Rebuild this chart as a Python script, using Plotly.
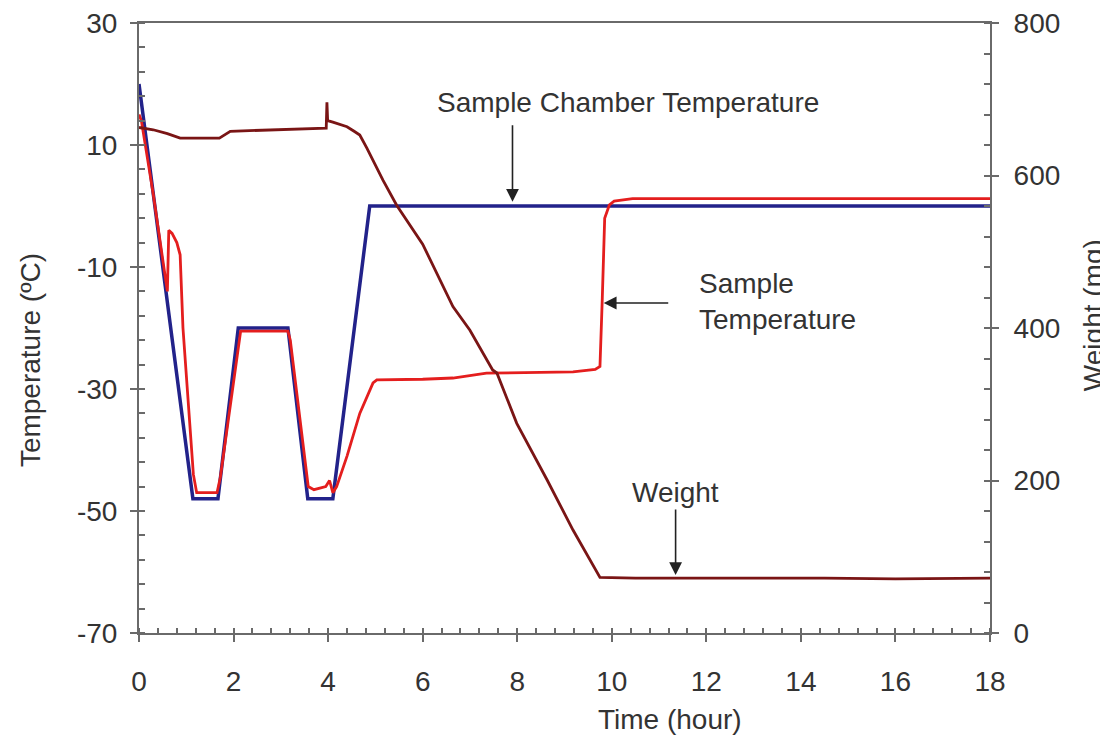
import plotly.graph_objects as go

# ---------------- data ----------------
chamber_t = [0, 1.14, 1.67, 2.1, 3.15, 3.57, 4.1, 4.88, 18]
chamber_T = [20, -48, -48, -20, -20, -48, -48, 0, 0]

sample_t = [0, 0.05, 0.3, 0.55, 0.6, 0.63, 0.7, 0.8, 0.87, 0.93, 1.04, 1.15, 1.22,
            1.65, 1.72, 2.15, 3.15, 3.2, 3.58, 3.7, 3.95, 4.03, 4.1, 4.18, 4.4, 4.67,
            4.95, 5.03, 6.0, 6.64, 7.35, 8.5, 9.18, 9.65, 9.75, 9.8, 9.85, 9.95,
            10.05, 10.44, 18]
sample_T = [15, 14, 2, -12, -14, -4, -4.5, -6, -8, -20, -32, -44, -47,
            -47, -44.5, -20.5, -20.5, -22, -46, -46.5, -46, -45, -47, -46, -41, -34,
            -29, -28.5, -28.4, -28.2, -27.4, -27.3, -27.2, -26.8, -26.3, -15, -2, 0.2,
            0.8, 1.2, 1.2]

weight_t = [0, 0.3, 0.6, 0.87, 1.3, 1.7, 1.93, 2.5, 3.0, 3.5, 3.96, 3.975, 3.99,
            4.1, 4.3, 4.4, 4.55, 4.67, 4.82, 5.16, 5.45, 6.0, 6.64, 7.0, 7.48, 7.57,
            7.99, 8.63, 9.18, 9.75, 10.5, 14.5, 16.0, 17.2, 18]
weight_mg = [663, 660, 655, 649, 649, 649, 658, 659, 660, 661, 662, 696, 672,
             670, 666, 664, 658, 653, 636, 594, 561, 510, 428, 397, 345, 341,
             275, 201, 135, 73, 72, 72, 71, 72, 72]

x_ticks = [0, 2, 4, 6, 8, 10, 12, 14, 16, 18]
temp_ticks = [-70, -50, -30, -10, 10, 30]
temp_labels = ["-70", "-50", "-30", "-10", "10", "30"]
weight_ticks = [0, 200, 400, 600, 800]

FONT = "Liberation Sans, Arial, sans-serif"
TXT = "#333333"
AX = "#6a6a6a"
FS = 28

fig = go.Figure()
fig.add_trace(go.Scatter(x=chamber_t, y=chamber_T, mode="lines",
                         line=dict(color="#22228a", width=3.5), name="Sample Chamber Temperature"))
fig.add_trace(go.Scatter(x=sample_t, y=sample_T, mode="lines",
                         line=dict(color="#e41e1e", width=2.8), name="Sample Temperature"))
fig.add_trace(go.Scatter(x=weight_t, y=weight_mg, mode="lines", yaxis="y2",
                         line=dict(color="#7a1515", width=2.8), name="Weight"))

common = dict(showgrid=False, zeroline=False, linecolor=AX, linewidth=2,
              tickcolor=AX, tickwidth=2, automargin=False, ticklabeloverflow="allow",
              tickfont=dict(family=FONT, size=FS, color=TXT))

# the page body adds an 8px offset; figure sized so the plot area lands where the reference has it
fig.update_layout(
    width=1100, height=733,
    margin=dict(l=131, r=118, t=15, b=108, autoexpand=False),
    paper_bgcolor="white", plot_bgcolor="white",
    showlegend=False,
    xaxis=dict(range=[0, 18], tickvals=x_ticks, ticks="outside", ticklen=7,
               showline=True, mirror=True, ticklabelstandoff=15,
               minor=dict(dtick=0.4, tick0=0, ticks="inside", ticklen=5,
                          tickcolor=AX, tickwidth=1.5),
               **common),
    yaxis=dict(range=[-70, 30], tickvals=temp_ticks, ticktext=temp_labels,
               ticks="outside", ticklen=7,
               showline=True, ticklabelstandoff=7,
               minor=dict(dtick=4, tick0=-70, ticks="inside", ticklen=6,
                          tickcolor=AX, tickwidth=1.5),
               **common),
    yaxis2=dict(range=[0, 800], tickvals=weight_ticks, ticks="outside", ticklen=7,
                overlaying="y", side="right", anchor="x", showline=True,
                ticklabelstandoff=9,
                minor=dict(dtick=40, tick0=0, ticks="inside", ticklen=6,
                           tickcolor=AX, tickwidth=1.5),
                **common),
    # overlay axes providing the inner half of the crossing major ticks
    xaxis3=dict(range=[0, 18], tickvals=x_ticks, ticks="inside", ticklen=4,
                overlaying="x", anchor="y", showticklabels=False, showline=False,
                showgrid=False, zeroline=False, tickcolor=AX, tickwidth=2, automargin=False),
    yaxis3=dict(range=[-70, 30], tickvals=temp_ticks, ticks="inside", ticklen=5,
                overlaying="y", anchor="x", side="left", showticklabels=False,
                showline=False, showgrid=False, zeroline=False, tickcolor=AX, tickwidth=2,
                automargin=False),
    yaxis4=dict(range=[0, 800], tickvals=weight_ticks, ticks="inside", ticklen=5,
                overlaying="y", anchor="x", side="right", showticklabels=False,
                showline=False, showgrid=False, zeroline=False, tickcolor=AX, tickwidth=2,
                automargin=False),
)

ann_font = dict(family=FONT, size=FS, color=TXT)
annotations = [
    # axis titles
    dict(text="Temperature (ºC)", xref="paper", yref="paper", x=-0.128, y=0.4475,
         textangle=-90, showarrow=False, font=ann_font, xanchor="center", yanchor="middle"),
    dict(text="Weight (mg)", xref="paper", yref="paper", x=1.121, y=0.521,
         textangle=-90, showarrow=False, font=ann_font, xanchor="center", yanchor="middle"),
    dict(text="Time (hour)", xref="paper", yref="paper", x=0.624, y=-0.1426,
         showarrow=False, font=ann_font, xanchor="center", yanchor="middle"),
    # labels
    dict(text="Sample Chamber Temperature", x=10.34, y=16.9, xref="x", yref="y",
         showarrow=False, font=ann_font, xanchor="center", yanchor="middle"),
    dict(text="Sample<br>Temperature", x=11.8, y=-15.7, xref="x", yref="y",
         showarrow=False, font=ann_font, xanchor="left", yanchor="middle", align="left"),
    dict(text="Weight", x=11.34, y=-46.9, xref="x", yref="y",
         showarrow=False, font=ann_font, xanchor="center", yanchor="middle"),
    # arrows
    dict(text="", x=7.9, y=0.7, xref="x", yref="y", ax=0, ay=-78, axref="pixel", ayref="pixel",
         showarrow=True, arrowhead=2, arrowsize=1.6, arrowwidth=1.6, arrowcolor="#222"),
    dict(text="", x=9.83, y=-15.9, xref="x", yref="y", ax=66, ay=0,
         showarrow=True, arrowhead=2, arrowsize=1.6, arrowwidth=1.6, arrowcolor="#222"),
    dict(text="", x=11.35, y=76, xref="x", yref="y2", ax=0, ay=-67,
         showarrow=True, arrowhead=2, arrowsize=1.6, arrowwidth=1.6, arrowcolor="#222"),
]
fig.update_layout(annotations=annotations)

fig.write_html("out.html")
